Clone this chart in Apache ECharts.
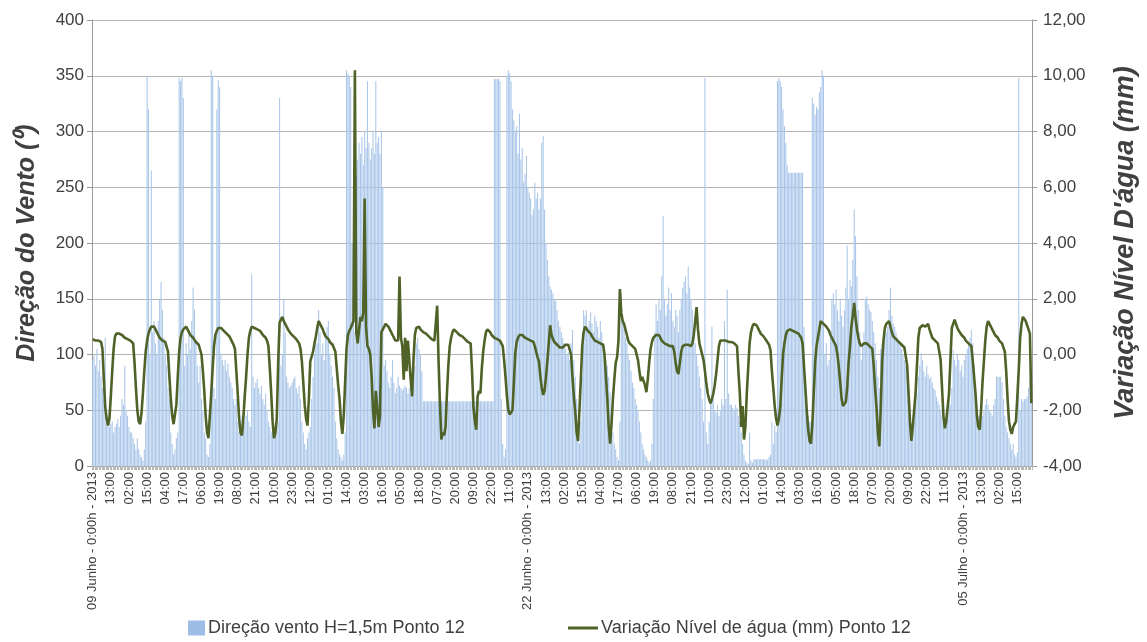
<!DOCTYPE html>
<html>
<head>
<meta charset="utf-8">
<script src="https://cdn.jsdelivr.net/npm/echarts@6/dist/echarts.min.js"></script>
<style>
  html, body { margin: 0; padding: 0; background: #fff; }
  #chart { width: 1147px; height: 642px; }
</style>
</head>
<body>
<div id="chart"></div>
<script>
// Direção do vento (barras) e variação do nível de água (linha), Ponto 12
// valores horários, um dia por linha
var windDir = [
  95,100,90,105,85,95,80,70,60,115,45,40,35,38,40,30,35,38,42,35,45,60,55,90,
  50,45,35,30,30,25,20,15,25,15,10,8,5,15,40,350,320,100,265,120,130,110,100,130,
  150,165,140,115,100,90,70,60,30,20,10,15,25,30,348,345,348,330,90,110,100,120,105,130,
  160,140,110,90,75,90,60,50,30,25,10,8,20,355,350,70,60,320,346,340,100,95,90,95,
  85,92,80,75,70,60,55,60,40,30,35,45,50,40,45,50,40,35,172,80,70,75,78,70,
  65,72,60,55,65,50,40,35,30,32,28,30,35,40,330,90,100,150,120,80,75,70,72,75,
  78,80,70,65,72,60,40,30,20,15,25,30,35,60,80,100,120,110,140,120,100,110,95,120,
  125,130,100,90,80,70,40,25,15,10,8,5,10,30,355,352,350,340,200,150,120,260,275,290,
  280,295,270,300,285,345,290,275,285,300,280,345,290,295,280,300,250,90,95,85,75,70,80,95,
  75,65,70,80,72,70,68,70,72,70,65,70,65,70,80,90,110,115,105,100,85,58,58,58,
  58,58,58,58,58,58,58,58,58,58,58,58,58,58,58,58,58,58,58,58,58,58,58,58,
  58,58,58,58,58,58,58,58,58,58,58,58,58,58,58,58,58,58,58,58,58,58,58,58,
  347,347,347,347,345,60,20,8,15,350,355,352,345,320,310,300,305,280,316,275,285,255,262,278,
  250,245,240,225,230,254,240,245,230,240,290,296,230,200,185,170,161,158,155,150,148,140,130,125,
  120,115,110,105,100,102,95,110,122,95,80,60,30,20,40,80,140,135,140,125,130,138,128,120,
  135,130,125,115,130,120,110,105,95,90,80,66,50,30,20,15,8,5,40,155,130,125,115,110,
  100,95,85,75,70,60,55,50,40,30,20,15,10,8,5,3,5,20,60,120,145,130,150,140,
  170,224,150,135,145,160,140,155,130,125,140,135,120,140,150,160,165,170,155,179,160,150,140,120,
  110,100,90,80,70,60,40,348,30,20,40,60,125,60,50,48,55,45,50,60,55,130,60,158,
  65,55,55,52,50,55,52,45,40,30,20,10,5,3,2,30,5,3,6,6,6,6,6,6,
  6,6,6,5,6,8,10,40,20,36,30,345,348,345,340,320,305,290,270,263,263,263,263,263,
  263,263,263,263,263,263,125,60,50,45,40,40,330,325,315,322,320,335,340,355,350,100,110,90,
  95,120,150,155,145,158,140,130,150,135,125,140,160,198,150,167,161,185,230,206,170,140,120,95,
  110,120,150,152,145,140,138,130,120,110,95,80,70,105,110,115,118,120,125,140,160,135,128,125,
  120,115,110,108,105,100,95,90,85,60,40,35,30,40,55,65,80,90,101,95,85,80,90,82,
  78,80,75,70,68,62,58,55,50,45,40,35,40,50,60,55,70,104,95,90,100,95,85,90,
  80,95,100,105,110,115,122,110,90,70,55,45,35,40,45,50,55,60,55,50,48,45,55,60,
  80,80,80,80,75,60,45,35,30,25,20,15,20,10,8,12,348,50,60,58,60,60,62,70,
  78,65
];

var waterLevel = [
  0.55,0.5,0.5,0.45,0.5,0.55,0.45,0.2,-0.9,-1.9,-2.3,-2.55,-2.3,-1.5,-0.6,0.2,0.65,0.75,0.8,0.75,0.7,0.7,0.65,0.6,
  0.6,0.55,0.5,0.5,0.45,0.4,-0.3,-1.2,-2.0,-2.4,-2.5,-2.1,-1.4,-0.6,0.1,0.5,0.75,0.9,1.0,1.05,1.0,0.9,0.8,0.7,
  0.6,0.55,0.5,0.45,0.45,0.4,0.1,-0.8,-1.6,-2.2,-2.5,-2.55,-1.8,-0.8,0.1,0.6,0.8,0.9,0.95,1.0,0.9,0.8,0.7,0.65,
  0.6,0.55,0.45,0.4,0.35,0.3,0.0,-0.6,-1.3,-2.2,-2.8,-3.0,-2.2,-1.4,-0.5,0.3,0.7,0.85,0.95,1.0,0.95,0.9,0.85,0.8,
  0.75,0.7,0.65,0.55,0.45,0.35,0.2,-0.6,-1.4,-2.3,-2.8,-2.9,-2.3,-1.5,-0.8,0.0,0.6,0.85,1.0,1.05,0.95,0.9,0.9,0.85,
  0.85,0.8,0.7,0.65,0.6,0.5,0.3,-0.5,-1.4,-2.4,-3.0,-2.8,-2.3,-0.3,1.15,1.25,1.35,1.2,1.1,1.0,0.9,0.85,0.75,0.7,
  0.65,0.6,0.55,0.5,0.4,0.2,-0.25,-1.0,-1.8,-2.3,-2.55,-1.6,-0.25,-0.25,0.1,0.4,0.65,0.95,1.2,1.1,1.0,0.9,0.75,0.65,
  0.6,0.55,0.45,0.4,0.35,0.3,0.1,-0.5,-1.1,-1.6,-2.4,-2.85,-2.2,-1.0,0.2,0.7,0.85,0.95,1.0,1.2,10.2,0.8,0.4,0.9,
  1.35,1.2,1.5,5.6,1.0,0.3,0.2,0.0,-0.8,-2.0,-2.65,-1.3,-1.9,-2.6,-2.2,0.8,0.9,1.0,1.1,1.15,1.0,0.9,0.8,0.7,
  0.6,0.5,0.45,0.5,2.8,0.6,0.3,-0.9,0.6,-0.6,0.5,-0.2,-0.9,-1.5,-0.2,0.7,0.95,1.0,1.0,0.9,0.85,0.8,0.75,0.75,
  0.7,0.65,0.6,0.55,0.5,0.5,0.45,1.75,-0.25,-1.8,-3.05,-2.8,-2.9,-2.6,-1.4,-0.4,0.3,0.6,0.8,0.9,0.85,0.8,0.75,0.7,
  0.7,0.65,0.6,0.55,0.5,0.45,0.45,0.4,-0.6,-1.9,-2.4,-2.7,-1.5,-1.3,-1.4,-0.5,0.1,0.5,0.8,0.9,0.85,0.8,0.7,0.65,
  0.6,0.55,0.55,0.5,0.5,0.45,0.3,-0.2,-0.8,-1.5,-2.0,-2.15,-2.1,-2.0,-1.0,0.05,0.45,0.6,0.7,0.75,0.7,0.65,0.6,0.55,
  0.55,0.5,0.5,0.45,0.45,0.3,0.1,-0.1,-0.25,-0.8,-1.2,-1.45,-1.3,-0.8,-0.25,0.4,1.05,0.7,0.55,0.45,0.4,0.35,0.3,0.25,
  0.2,0.25,0.3,0.35,0.35,0.35,0.3,0.0,-0.8,-1.5,-2.05,-2.8,-3.1,-2.0,-0.9,0.3,0.8,1.0,0.95,0.85,0.8,0.75,0.65,0.6,
  0.5,0.45,0.45,0.4,0.4,0.35,0.35,0.0,-0.8,-1.6,-2.6,-3.2,-2.5,-1.6,-0.9,-0.3,-0.1,0.5,2.35,1.5,1.2,1.1,0.9,0.7,
  0.5,0.4,0.35,0.3,0.25,0.2,0.15,-0.2,-0.6,-0.95,-0.8,-0.8,-1.1,-1.35,-0.9,-0.3,0.2,0.45,0.6,0.65,0.7,0.75,0.7,0.6,
  0.5,0.45,0.4,0.4,0.35,0.35,0.3,0.3,0.3,0.1,-0.3,-0.6,-0.7,-0.3,0.1,0.3,0.3,0.35,0.3,0.35,0.35,0.3,0.4,0.7,
  1.2,1.7,0.9,0.4,0.2,0.15,-0.2,-0.6,-1.05,-1.4,-1.6,-1.75,-1.6,-1.4,-1.1,-0.7,-0.2,0.3,0.5,0.5,0.5,0.45,0.5,0.5,
  0.45,0.45,0.45,0.4,0.4,0.35,0.3,-0.6,-1.4,-2.6,-1.85,-3.05,-2.6,-1.4,-0.5,0.4,0.8,1.0,1.1,1.15,1.05,0.95,0.85,0.75,
  0.7,0.65,0.6,0.5,0.45,0.35,0.15,-0.6,-1.2,-1.85,-2.3,-2.55,-2.3,-1.9,-0.9,0.0,0.4,0.7,0.85,0.9,0.9,0.85,0.85,0.85,
  0.8,0.8,0.75,0.7,0.6,0.4,-0.4,-1.2,-2.0,-2.7,-3.1,-3.2,-2.5,-1.4,-0.3,0.3,0.6,0.9,1.2,1.15,1.1,1.05,1.0,0.95,
  0.85,0.7,0.6,0.5,0.4,0.3,0.0,-0.45,-1.0,-1.6,-1.85,-1.8,-1.7,-1.2,-0.3,0.3,1.0,1.4,1.85,1.3,0.9,0.6,0.4,0.3,
  0.35,0.4,0.45,0.4,0.35,0.3,0.25,0.2,-0.4,-1.2,-1.9,-2.8,-3.3,-2.0,-0.3,0.5,0.95,1.1,1.15,1.2,1.0,0.8,0.65,0.6,
  0.55,0.5,0.45,0.4,0.35,0.3,0.25,0.2,-0.4,-1.4,-2.4,-3.1,-2.6,-2.0,-1.4,-0.4,0.6,0.95,1.0,1.05,1.0,1.0,1.05,1.1,
  0.9,0.75,0.6,0.55,0.5,0.45,0.4,0.35,-0.2,-1.2,-2.2,-2.65,-2.4,-1.9,-1.4,-0.2,0.95,1.1,1.25,1.1,0.95,0.85,0.8,0.7,
  0.65,0.6,0.5,0.45,0.4,0.35,0.3,-0.2,-0.8,-1.4,-2.2,-2.6,-2.7,-2.0,-1.0,-0.25,0.5,1.0,1.2,1.1,1.0,0.9,0.8,0.7,
  0.65,0.6,0.5,0.45,0.4,0.35,0.1,-0.6,-1.6,-2.4,-2.7,-2.85,-2.6,-2.5,-2.4,-1.5,-0.55,0.6,1.1,1.35,1.3,1.2,1.05,0.9,
  0.75,-1.75
];

// rótulos de data nas mudanças de período
var dateIndex = [0, 312, 624];
var dateText = ["09 Junho - 0:00h - 2013", "22 Junho - 0:00h - 2013", "05 Julho - 0:00h - 2013"];

// eixos
var leftAxis = { min: 0, max: 400, step: 50 };
var rightAxis = { min: -4, max: 12, step: 2 };

var seriesNames = ["Direção vento H=1,5m Ponto 12", "Variação Nível de água (mm) Ponto 12"];

// categorias horárias
var hours = [];
for (var i = 0; i < windDir.length; i++) {
  var k = dateIndex.indexOf(i);
  if (k >= 0) {
    hours.push(dateText[k]);
  } else {
    var h = i % 24;
    hours.push((h < 10 ? "0" : "") + h + ":00");
  }
}

var myChart = echarts.init(document.getElementById("chart"));

var txt = "#404040";
var gridCol = "#b4b4b4";
var barCol = "#a9c6e9";
var lineCol = "#4f6228";

var option = {
  animation: false,
  textStyle: { fontFamily: "Liberation Sans" },
  grid: { left: 92, right: 109, top: 20, bottom: 176 },
  legend: [
    {
      left: 183,
      bottom: 0,
      itemWidth: 17,
      itemHeight: 15,
      itemGap: 0,
      textStyle: { color: txt, fontSize: 18, padding: [0, 0, 0, -2] },
      data: [{ name: seriesNames[0], icon: "rect", itemStyle: { color: "#9dbde6" } }]
    },
    {
      left: 563,
      bottom: 0,
      itemWidth: 30,
      itemHeight: 3,
      textStyle: { color: txt, fontSize: 18, padding: [0, 0, 0, -2] },
      data: [{ name: seriesNames[1], icon: "rect", itemStyle: { color: lineCol } }]
    }
  ],
  xAxis: {
    type: "category",
    data: hours,
    boundaryGap: true,
    axisLine: { lineStyle: { color: "#9a9a9a" } },
    axisTick: { show: true, interval: 0, length: 4, lineStyle: { color: "#b8b8b8" } },
    axisLabel: {
      interval: 12,
      rotate: 90,
      color: txt,
      fontSize: 13,
      margin: 6
    },
    splitLine: { show: false }
  },
  yAxis: [
    {
      type: "value",
      min: leftAxis.min,
      max: leftAxis.max,
      interval: leftAxis.step,
      name: "Direção do Vento (⁰)",
      nameLocation: "middle",
      nameRotate: 90,
      nameGap: 52,
      nameTextStyle: { fontSize: 25, fontWeight: "bold", fontStyle: "italic", color: txt },
      axisLine: { show: true, lineStyle: { color: "#9a9a9a" } },
      axisTick: { show: true, length: 5, lineStyle: { color: "#9a9a9a" } },
      axisLabel: { color: txt, fontSize: 17, margin: 8 },
      splitLine: { lineStyle: { color: gridCol } }
    },
    {
      type: "value",
      position: "right",
      min: rightAxis.min,
      max: rightAxis.max,
      interval: rightAxis.step,
      name: "Variação Nível D'água (mm)",
      nameLocation: "middle",
      nameRotate: 90,
      nameGap: 80,
      nameTextStyle: { fontSize: 27, fontWeight: "bold", fontStyle: "italic", color: txt, padding: [0, 0, 16, 0] },
      axisLine: { show: true, lineStyle: { color: "#9a9a9a" } },
      axisTick: { show: true, length: 5, lineStyle: { color: "#9a9a9a" } },
      axisLabel: {
        color: txt,
        fontSize: 17,
        margin: 11,
        formatter: function (v) { return v.toFixed(2).replace(".", ","); }
      },
      splitLine: { show: false }
    }
  ],
  series: [
    {
      name: seriesNames[0],
      type: "bar",
      yAxisIndex: 0,
      data: windDir,
      barCategoryGap: "25%",
      itemStyle: { color: barCol }
    },
    {
      name: seriesNames[1],
      type: "line",
      yAxisIndex: 1,
      data: waterLevel,
      symbol: "none",
      lineStyle: { color: lineCol, width: 2.6 },
      itemStyle: { color: lineCol }
    }
  ]
};

myChart.setOption(option);
window.addEventListener("resize", function () {
  myChart.resize();
});
</script>
</body>
</html>
